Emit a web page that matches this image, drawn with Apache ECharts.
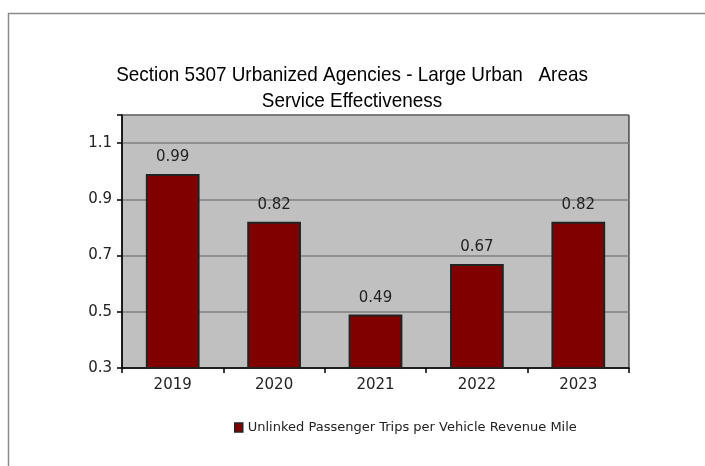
<!DOCTYPE html>
<html><head><meta charset="utf-8">
<script src="https://cdn.jsdelivr.net/npm/echarts@6/dist/echarts.min.js"></script>
<style>html,body{margin:0;padding:0;background:#fff}#c{width:705px;height:466px}</style>
</head><body><div id="c"></div>
<script>
const categories = ['2019','2020','2021','2022','2023'];
const values = [0.99, 0.82, 0.49, 0.67, 0.82];
const seriesName = 'Unlinked Passenger Trips per Vehicle Revenue Mile';
const titleLines = ['Section 5307 Urbanized Agencies - Large Urban   Areas', 'Service Effectiveness'];

const chart = echarts.init(document.getElementById('c'), null, {renderer:'canvas'});
const ff = 'Liberation Sans, Arial, sans-serif';
const fw = 'DejaVu Sans, Verdana, sans-serif';
chart.setOption({
  animation: false,
  backgroundColor: '#fff',
  graphic: [{
    type: 'rect', shape: {x: 8.5, y: 13.5, width: 720, height: 480},
    style: {fill: 'none', stroke: '#8a8a8a', lineWidth: 1.5}, z: -1
  }, {
    type: 'text', x: 352, y: 75, scaleX: 0.9,
    style: {text: titleLines[0], fontFamily: ff, fontSize: 21, fill: '#000', align: 'center', verticalAlign: 'middle'}
  }, {
    type: 'text', x: 352, y: 101, scaleX: 0.9,
    style: {text: titleLines[1], fontFamily: ff, fontSize: 21, fill: '#000', align: 'center', verticalAlign: 'middle'}
  }],
  grid: {left: 122, right: 76, top: 115, bottom: 98, show: true, backgroundColor: '#c0c0c0', borderColor: '#000', borderWidth: 1},
  legend: {
    data: [seriesName], left: 229, top: 416, itemWidth: 8, itemHeight: 9, itemGap: 2,
    icon: 'rect',
    textStyle: {fontFamily: fw, fontSize: 13, color: '#222'},
    itemStyle: {borderColor: '#222', borderWidth: 1.5}
  },
  xAxis: {
    type: 'category', data: categories,
    axisLine: {lineStyle: {color: '#000', width: 1.5}},
    axisTick: {show: true, inside: false, length: 5, lineStyle: {color: '#000', width: 1.5}},
    axisLabel: {fontFamily: fw, fontSize: 15, color: '#222', margin: 10}
  },
  yAxis: {
    type: 'value', min: 0.3, max: 1.2, interval: 0.2,
    axisLine: {show: true, lineStyle: {color: '#000', width: 1.5}},
    axisTick: {show: true, length: 5, lineStyle: {color: '#000', width: 1.5}},
    splitLine: {lineStyle: {color: '#808080', width: 1.5}},
    axisLabel: {fontFamily: fw, fontSize: 15, color: '#222', margin: 10,
      formatter: v => (Math.abs(v - 1.2) < 1e-6 ? '' : (+v.toFixed(1)).toString())}
  },
  series: [{
    name: seriesName, type: 'bar', data: values, barWidth: '53%',
    itemStyle: {color: '#800000', borderColor: '#222', borderWidth: 2},
    label: {show: true, position: 'top', distance: 9, fontFamily: fw, fontSize: 15, color: '#222', formatter: p => p.value.toFixed(2)}
  }]
});
</script></body></html>
